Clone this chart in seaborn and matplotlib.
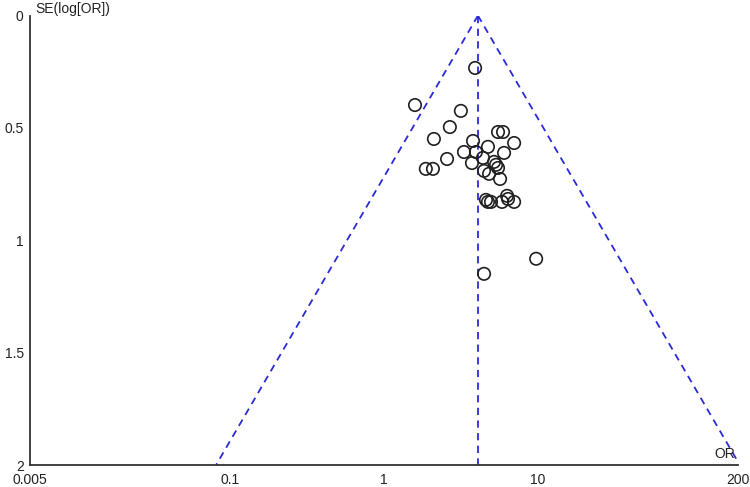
import seaborn as sns
import matplotlib.pyplot as plt
import pandas as pd
import numpy as np

sns.set_style("white")
plt.rcParams["font.family"] = ["Liberation Sans", "DejaVu Sans"]

# Study estimates
odds_ratio = [3.91, 1.59, 3.16, 2.68, 5.51, 5.94, 2.11, 7.01, 3.79, 4.74,
              3.31, 3.96, 6.03, 2.57, 3.73, 4.40, 5.19, 5.35, 5.51, 1.87,
              2.08, 4.47, 4.82, 5.68, 4.60, 4.74, 4.96, 5.85, 6.31, 6.40,
              7.01, 9.75, 4.47]
se_log_or = [0.233, 0.398, 0.424, 0.496, 0.518, 0.518, 0.549, 0.567, 0.558, 0.584,
             0.607, 0.607, 0.611, 0.638, 0.656, 0.633, 0.651, 0.664, 0.678, 0.682,
             0.682, 0.691, 0.704, 0.727, 0.820, 0.829, 0.829, 0.829, 0.802, 0.816,
             0.829, 1.082, 1.149]
pooled_or = 4.08

x_ticks = [0.005, 0.1, 1, 10, 200]
x_tick_labels = ["0.005", "0.1", "1", "10", "200"]
y_ticks = [0, 0.5, 1, 1.5, 2]
y_tick_labels = ["0", "0.5", "1", "1.5", "2"]

df = pd.DataFrame({"OR": odds_ratio, "SE": se_log_or})

fig = plt.figure(figsize=(7.5, 4.87), dpi=100)
ax = fig.add_axes([0.04, 0.045, 0.944, 0.923])

# funnel limits (pseudo 95% CI)
se_line = np.array([0, 2])
funnel = pd.DataFrame({
    "SE": np.concatenate([se_line, se_line]),
    "OR": np.concatenate([pooled_or * np.exp(-1.96 * se_line),
                          pooled_or * np.exp(1.96 * se_line)]),
    "side": ["lo", "lo", "hi", "hi"],
})
blue = "#2a2ad8"
for side in ["lo", "hi"]:
    part = funnel[funnel["side"] == side]
    ax.plot(part["OR"], part["SE"], color=blue, linestyle=(0, (4, 3)), lw=1.3)
ax.plot([pooled_or, pooled_or], [0, 2], color=blue, linestyle=(0, (4, 3)), lw=1.3)

sns.scatterplot(data=df, x="OR", y="SE", ax=ax, marker="o", s=80,
                facecolor="none", edgecolor="#202020", linewidth=1.2, zorder=3)

ax.set_xscale("log")
ax.set_xlim(0.005, 200)
ax.set_ylim(2, 0)
ax.set_xticks(x_ticks)
ax.set_xticklabels(x_tick_labels)
ax.set_yticks(y_ticks)
ax.set_yticklabels(y_tick_labels)
ax.minorticks_off()
ax.set_xlabel("")
ax.set_ylabel("")

for s in ["top", "right"]:
    ax.spines[s].set_visible(False)
for s in ["left", "bottom"]:
    ax.spines[s].set_color("#333333")
    ax.spines[s].set_linewidth(1.3)
ax.tick_params(direction="inout", length=7, width=1.1, color="#333333",
               labelsize=10, pad=1, labelcolor="#222222")
ax.tick_params(axis="x", pad=2)

ax.text(0.0054, -0.03, "SE(log[OR])", fontsize=10, color="#222222",
        ha="left", va="center", clip_on=False)
ax.text(191, 1.95, "OR", fontsize=10, color="#222222", ha="right", va="center")

fig.savefig("out.png", dpi=100)
plt.close()
